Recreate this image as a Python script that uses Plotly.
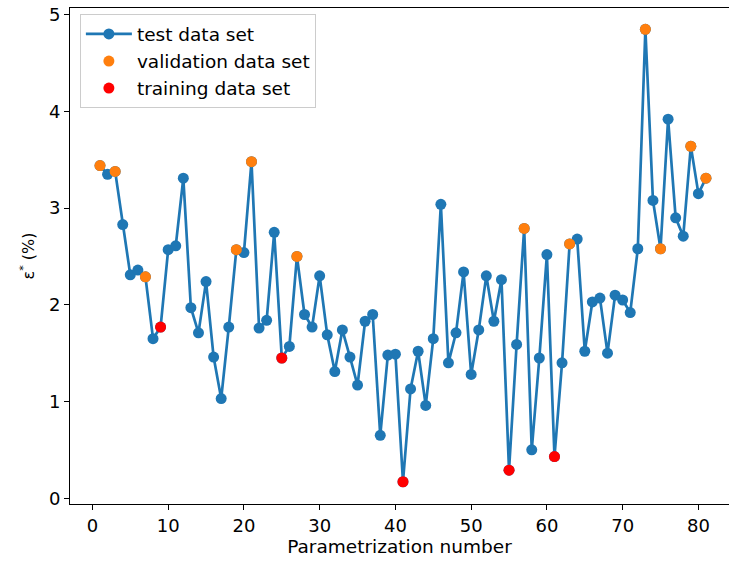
import plotly.graph_objects as go

# parametrization numbers 1..81 and error values
param_no = list(range(1, 82))
eps_test = [3.44, 3.35, 3.38, 2.83, 2.31, 2.36, 2.29, 1.65, 1.77, 2.57,
            2.61, 3.31, 1.97, 1.71, 2.24, 1.46, 1.03, 1.77, 2.57, 2.54,
            3.48, 1.76, 1.84, 2.75, 1.45, 1.57, 2.50, 1.90, 1.77, 2.30,
            1.69, 1.31, 1.74, 1.46, 1.17, 1.83, 1.90, 0.65, 1.48, 1.49,
            0.17, 1.13, 1.52, 0.96, 1.65, 3.04, 1.40, 1.71, 2.34, 1.28,
            1.74, 2.30, 1.83, 2.26, 0.29, 1.59, 2.79, 0.50, 1.45, 2.52,
            0.43, 1.40, 2.63, 2.68, 1.52, 2.03, 2.07, 1.50, 2.10, 2.05,
            1.92, 2.58, 4.85, 3.08, 2.58, 3.92, 2.90, 2.71, 3.64, 3.15,
            3.31]
validation_no = [1, 3, 7, 19, 21, 27, 57, 63, 73, 75, 79, 81]
training_no = [9, 25, 41, 55, 61]

validation_eps = [eps_test[i - 1] for i in validation_no]
training_eps = [eps_test[i - 1] for i in training_no]

font = "DejaVu Sans"

fig = go.Figure()
fig.add_trace(go.Scatter(
    x=param_no, y=eps_test, mode="lines+markers", name="test data set",
    line=dict(color="#1f77b4", width=2.7),
    marker=dict(color="#1f77b4", size=11)))
fig.add_trace(go.Scatter(
    x=validation_no, y=validation_eps, mode="markers", name="validation data set",
    marker=dict(color="#ff7f0e", size=11)))
fig.add_trace(go.Scatter(
    x=training_no, y=training_eps, mode="markers", name="training data set",
    marker=dict(color="#ff0000", size=11)))

fig.update_layout(
    width=729, height=565,
    margin=dict(l=70, r=0, t=8, b=61, autoexpand=False),
    plot_bgcolor="white", paper_bgcolor="white",
    font=dict(family=font, size=18, color="black"),
    legend=dict(x=0.015, y=0.987, xanchor="left", yanchor="top",
                bgcolor="white", bordercolor="#cccccc", borderwidth=1,
                font=dict(size=18.5), tracegroupgap=0, itemwidth=46),
)
fig.update_xaxes(
    range=[-2.96, 84.04], tickvals=[0, 10, 20, 30, 40, 50, 60, 70, 80],
    automargin=False,
    showgrid=False, zeroline=False, showline=True, linecolor="black",
    linewidth=1, mirror=True, ticks="outside", ticklen=5, tickcolor="black",
    tickfont=dict(size=18),
    title=dict(text="Parametrization number", font=dict(size=18.5), standoff=4))
fig.update_yaxes(
    range=[-0.06, 5.07], tickvals=[0, 1, 2, 3, 4, 5],
    automargin=False,
    showgrid=False, zeroline=False, showline=True, linecolor="black",
    linewidth=1, ticks="outside", ticklen=5, tickcolor="black",
    tickfont=dict(size=18),
    title=dict(text="ε<sup>*</sup> (%)", font=dict(size=16), standoff=10))

# page body has an 8px default margin; drop it so the figure fills the window
fig.write_html("out.html", config={"displayModeBar": False},
               post_script="document.body.style.margin='0px';document.body.style.overflow='hidden';")
